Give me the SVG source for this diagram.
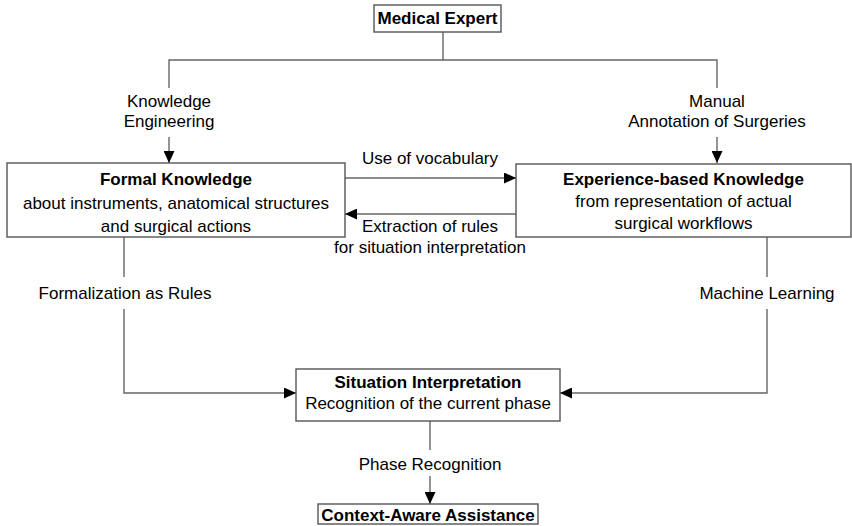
<svg xmlns="http://www.w3.org/2000/svg" width="852" height="526" viewBox="0 0 852 526">
<defs>
<marker id="ah" markerWidth="12" markerHeight="11" refX="12" refY="5.5" orient="auto" markerUnits="userSpaceOnUse" viewBox="0 0 12 11">
<path d="M0,0 L12,5.5 L0,11 Z" fill="#000"/>
</marker>
<style>
.box{fill:#fff;stroke:#555;stroke-width:1.4}
.ln{fill:none;stroke:#666;stroke-width:1.4}
text{font-family:"Liberation Sans",Arial,sans-serif;font-size:17px;fill:#000;text-anchor:middle}
.b{font-weight:bold}
</style>
</defs>
<rect width="852" height="526" fill="#fff"/>
<g id="connectors">
<polyline class="ln" points="443,32 443,60 169,60 169,88"/>
<polyline class="ln" points="443,60 717,60 717,88"/>
<line class="ln" x1="169" y1="137" x2="169" y2="163" marker-end="url(#ah)"/>
<line class="ln" x1="717" y1="137" x2="717" y2="163" marker-end="url(#ah)"/>
<line class="ln" x1="345" y1="178" x2="516" y2="178" marker-end="url(#ah)"/>
<line class="ln" x1="516" y1="214" x2="345" y2="214" marker-end="url(#ah)"/>
<line class="ln" x1="124" y1="237" x2="124" y2="277"/>
<polyline class="ln" points="124,309 124,393 296,393" marker-end="url(#ah)"/>
<line class="ln" x1="767" y1="237" x2="767" y2="277"/>
<polyline class="ln" points="767,309 767,393 560,393" marker-end="url(#ah)"/>
<line class="ln" x1="430" y1="421" x2="430" y2="450"/>
<line class="ln" x1="430" y1="476" x2="430" y2="504" marker-end="url(#ah)"/>
<text x="169" y="107">Knowledge</text>
<text x="169" y="127">Engineering</text>
<text x="717" y="107">Manual</text>
<text x="717" y="127">Annotation of Surgeries</text>
<text x="430" y="164">Use of vocabulary</text>
<text x="430" y="232">Extraction of rules</text>
<text x="430" y="253">for situation interpretation</text>
<text x="125" y="299">Formalization as Rules</text>
<text x="767" y="299">Machine Learning</text>
<text x="430" y="470">Phase Recognition</text>
</g>
<g id="medical-expert">
<rect class="box" x="374" y="5" width="127" height="27"/>
<text class="b" x="437.5" y="24">Medical Expert</text>
</g>
<g id="formal-knowledge">
<rect class="box" x="7" y="163" width="338" height="74"/>
<text class="b" x="176" y="185">Formal Knowledge</text>
<text x="176" y="209">about instruments, anatomical structures</text>
<text x="176" y="232">and surgical actions</text>
</g>
<g id="experience-knowledge">
<rect class="box" x="516" y="164" width="335" height="73"/>
<text class="b" x="683.5" y="185">Experience-based Knowledge</text>
<text x="683.5" y="207">from representation of actual</text>
<text x="683.5" y="229">surgical workflows</text>
</g>
<g id="situation-interpretation">
<rect class="box" x="296" y="369" width="264" height="52"/>
<text class="b" x="428" y="388">Situation Interpretation</text>
<text x="428" y="409">Recognition of the current phase</text>
</g>
<g id="context-aware">
<rect class="box" x="318" y="504" width="220" height="20"/>
<text class="b" x="428" y="521">Context-Aware Assistance</text>
</g>
</svg>
